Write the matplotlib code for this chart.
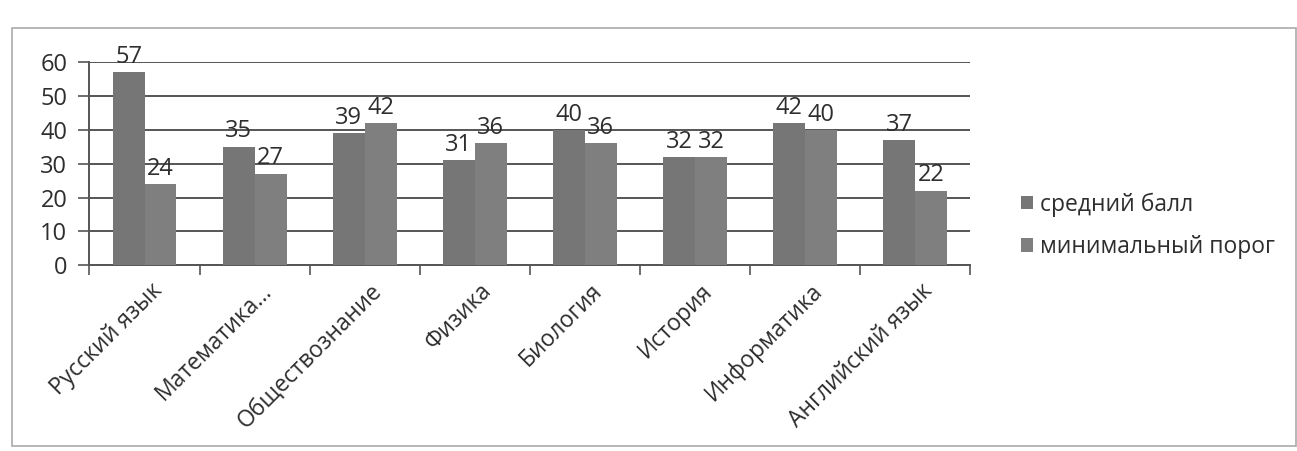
import numpy as np
import matplotlib.pyplot as plt
from matplotlib.patches import Rectangle

# data
subjects = ['Русский язык', 'Математика...', 'Обществознание', 'Физика',
            'Биология', 'История', 'Информатика', 'Английский язык']
avg_score = [57, 35, 39, 31, 40, 32, 42, 37]
min_score = [24, 27, 42, 36, 36, 32, 40, 22]
series_names = ['средний балл', 'минимальный порог']

plt.rcParams['font.family'] = ['Open Sans', 'DejaVu Sans']

fig = plt.figure(figsize=(12.97, 4.51), dpi=100)
ax = fig.add_axes([0.069, 0.412, 0.679, 0.45])

x = np.arange(len(subjects))
w = 0.29
b1 = ax.bar(x - w / 2, avg_score, w, color='#767676', label=series_names[0], zorder=3)
b2 = ax.bar(x + w / 2, min_score, w, color='#7f7f7f', label=series_names[1], zorder=3)

for bars in (b1, b2):
    for rect in bars:
        h = rect.get_height()
        ax.text(rect.get_x() + rect.get_width() / 2, h + 1.0, f'{h:g}',
                ha='center', va='bottom', fontsize=17, color='#2e2e2e')

ax.set_xlim(-0.5, len(subjects) - 0.5)
ax.set_ylim(0, 60)
ax.set_yticks(range(0, 61, 10))
ax.yaxis.grid(True, color='#555555', linewidth=1.4, zorder=0)
ax.set_axisbelow(True)

# category labels centred under groups, tick marks on boundaries
ax.set_xticks(x + 0.05)
ax.set_xticklabels(subjects, rotation=45, ha='right', rotation_mode='anchor',
                   fontsize=16.5, color='#2e2e2e')
ax.tick_params(axis='x', length=0, pad=10)
ax.set_xticks(np.arange(-0.5, len(subjects), 1), minor=True)
ax.tick_params(axis='x', which='minor', length=7, color='#555555', width=1.2)
ax.tick_params(axis='y', labelsize=17, colors='#2e2e2e', length=8,
               width=1.2, color='#555555', pad=8)

for s in ('top', 'right'):
    ax.spines[s].set_visible(False)
for s in ('left', 'bottom'):
    ax.spines[s].set_color('#555555')
    ax.spines[s].set_linewidth(1.4)

fig.legend(handles=[b1, b2], loc='center left', bbox_to_anchor=(0.771, 0.5),
           frameon=False, fontsize=16.5, handlelength=0.55, handleheight=0.55,
           handletextpad=0.3, labelspacing=0.8, labelcolor='#2e2e2e')

# outer chart frame
fig.patches.append(Rectangle((0.009, 0.012), 0.99, 0.925, transform=fig.transFigure,
                             fill=False, edgecolor='#aaaaaa', linewidth=1.2))

fig.savefig('out.png', dpi=100)
